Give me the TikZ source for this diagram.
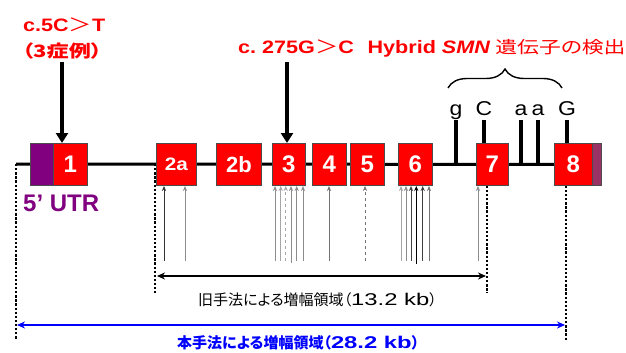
\documentclass[tikz,border=0pt]{standalone}
\usepackage{fontspec}
\setmainfont{Liberation Sans}
\newfontfamily\lat[FakeStretch=1.2]{Liberation Sans}
\newfontfamily\lats[FakeStretch=1.15]{Liberation Sans}
\newfontfamily\latw[FakeStretch=1.4]{Liberation Sans}
\newfontfamily\jps[FakeStretch=1.3,RawFeature=+palt]{Noto Sans CJK JP}
\newfontfamily\jpp[RawFeature=+palt]{Noto Sans CJK JP}
\usetikzlibrary{arrows.meta,decorations.pathreplacing}
\definecolor{utrpurple}{HTML}{800080}
\definecolor{endpurple}{HTML}{993366}
\definecolor{myblue}{HTML}{0000FF}
\pgfdeclarelayer{bg}
\pgfsetlayers{bg,main}
\begin{document}
\begin{tikzpicture}[x=1pt,y=-1pt,
  exon/.style={draw=black!70, line width=0.8pt, fill=red, text=white,
    font=\fontsize{24}{24}\selectfont\bfseries, inner sep=0pt, anchor=north west,
    minimum height=42pt},
  utrbox/.style={draw=black!70, line width=0.8pt, inner sep=0pt, anchor=north west,
    minimum height=42pt},
  redtxt/.style={text=red, inner sep=0pt},
  snp/.style={font=\fontsize{20}{20}\selectfont\lats, inner sep=0pt, anchor=base},
  tick/.style={line width=3.5pt},
  mainline/.style={line width=3pt},
  bigarrow/.style={line width=3.5pt, -{Triangle[length=10pt,width=12pt]}},
  dotline/.style={line width=2.3pt, dash pattern=on 2.3pt off 1.8pt},
  sarrow/.style={line width=0.9pt, -{Stealth[length=5pt,width=4.2pt]}},
]
\useasboundingbox (0,0) rectangle (626,353);

% exons
\node[utrbox, fill=utrpurple, minimum width=23pt] (u5) at (30,143) {};
\node[exon, minimum width=34pt] (e1) at (53,143) {1};
\node[exon, minimum width=40pt, font=\fontsize{18}{18}\selectfont\lats\bfseries] (e2a) at (156,143) {2a};
\node[exon, minimum width=45pt, font=\fontsize{22}{22}\selectfont\bfseries] (e2b) at (216,143) {2b};
\node[exon, minimum width=33pt] (e3) at (272,143) {3};
\node[exon, minimum width=34pt] (e4) at (312,143) {4};
\node[exon, minimum width=34pt] (e5) at (350,143) {5};
\node[exon, minimum width=34pt] (e6) at (398,143) {6};
\node[exon, minimum width=32pt] (e7) at (476,143) {7};
\node[exon, minimum width=38pt] (e8) at (554,143) {8};
\node[utrbox, fill=endpurple, minimum width=9pt] (u3) at (592,143) {};

% main line
\coordinate (L) at (16,164);
\begin{pgfonlayer}{bg}
\draw[mainline] (L) -- (e8.west);
\end{pgfonlayer}

% SNP ticks
\node[snp] (sg) at (456,115) {g};
\node[snp] (sC) at (484,115) {C};
\node[snp] (sa1) at (521,115) {a};
\node[snp] (sa2) at (538,115) {a};
\node[snp] (sG) at (567,115) {G};
\draw[tick] (456,164) -- (456,120);
\draw[tick] (e7.north -| sC) -- (484,120);
\draw[tick] (521,164) -- (521,120);
\draw[tick] (538,164) -- (538,120);
\draw[tick] (e8.north -| sG) -- (567,120);

% brace
\draw[decorate, decoration={brace, amplitude=19pt}, line width=1.4pt] (448,88) -- (562,88);

% red annotations
\node[redtxt, anchor=base west] (m1) at (23,32)
  {\fontsize{18}{18}\selectfont{\lat\bfseries c.5C}{\jps ＞}{\lat\bfseries T}};
\node[redtxt, anchor=base west] (m1b) at (22,57.5)
  {\fontsize{17}{17}\selectfont\jps\bfseries （3症例）};
\node[redtxt, anchor=base west] (m2) at (238,54)
  {\fontsize{18}{18}\selectfont{\lat\bfseries c.\ 275G}{\jps ＞}{\lat\bfseries C\hspace{0.75em}Hybrid \textit{SMN}} {\fontsize{16.8}{16.8}\selectfont\jps 遺伝子の検出}};

% big arrows
\coordinate (a1) at (62,62);
\coordinate (a3) at (287,62);
\draw[bigarrow] (a1) -- (a1 |- e1.north);
\draw[bigarrow] (a3) -- (a3 |- e3.north);

% 5' UTR
\node[text=utrpurple, font=\fontsize{24}{24}\selectfont\bfseries, inner sep=0pt, anchor=base west] (utrl) at (23,211) {5’ UTR};

% small arrows
\foreach \x/\c/\d/\yb [count=\i] in {164/black!80/solid/261, 185/black!45/solid/261,
  275/black!45/solid/261, 280.7/black!35/solid/261, 285.7/black!35/dashed/261,
  291/black!45/solid/263, 296.7/black!45/solid/261, 303/black!45/solid/261,
  329/black!55/solid/261, 365/black!55/dashed/261,
  401/black!35/solid/261, 406/black!45/solid/261, 411/black!75/solid/261,
  416.3/black/solid/264, 422.7/black!75/solid/261, 429/black!55/solid/261,
  478/black!45/solid/261}{
  \coordinate (arb\i) at (\x,\yb);
  \coordinate (art\i) at (\x,186);
  \draw[sarrow, \c, \d] (arb\i) -- (art\i);
}

% dotted guides
\coordinate (d1b) at (16,340);
\coordinate (d2t) at (155,164);
\coordinate (d2b) at (155,293);
\coordinate (d3b) at (487,293);
\coordinate (d4b) at (566,340);
\draw[dotline] (L) -- (d1b);
\draw[dotline] (d2t) -- (d2b);
\draw[dotline] (e7.south -| d3b) -- (d3b);
\draw[dotline] (e8.south -| d4b) -- (d4b);

% range arrows
\coordinate (r1l) at (157,276);
\coordinate (r1r) at (486,276);
\draw[line width=2pt, {Stealth[length=8pt,width=7pt]}-{Stealth[length=8pt,width=7pt]}] (r1l) -- (r1r);
\node[inner sep=0pt, anchor=base west] (t1) at (198,305)
  {\fontsize{15}{15}\selectfont\jpp 旧手法による増幅領域（{\fontsize{17}{17}\selectfont\latw 13.2 kb}）};

\coordinate (r2l) at (17,325);
\coordinate (r2r) at (565,325);
\draw[myblue, line width=2pt, {Stealth[length=8pt,width=7pt]}-{Stealth[length=8pt,width=7pt]}] (r2l) -- (r2r);
\node[text=myblue, inner sep=0pt, anchor=base west] (t2) at (177,348)
  {\fontsize{15}{15}\selectfont\jpp\bfseries 本手法による増幅領域（{\fontsize{17}{17}\selectfont\latw\bfseries 28.2 kb}）};
\end{tikzpicture}
\end{document}
